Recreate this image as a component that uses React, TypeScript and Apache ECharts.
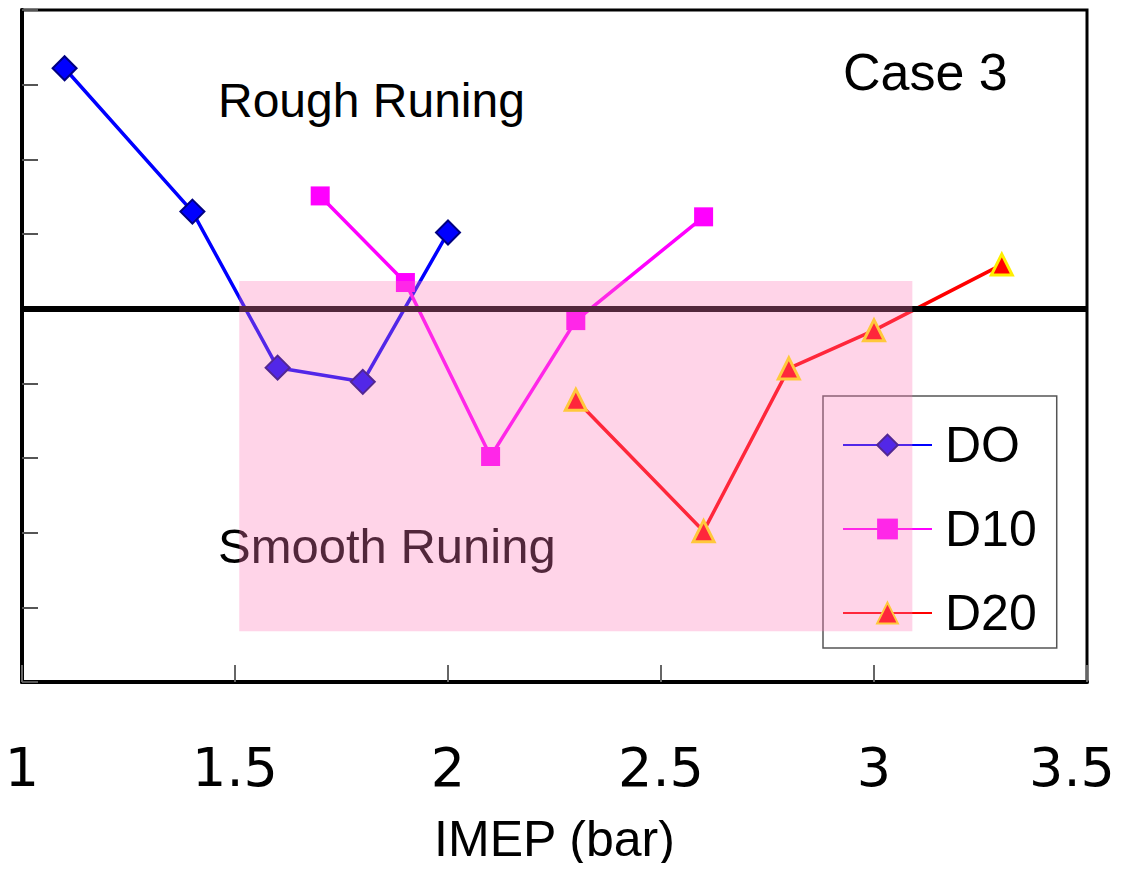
import React, { useEffect, useRef } from "react";
import * as echarts from "echarts";

const imep_D0 = [1.1, 1.4, 1.6, 1.8, 2.0];
const cov_D0 = [8.22, 6.3, 4.21, 4.02, 6.02];
const imep_D10 = [1.7, 1.9, 2.1, 2.3, 2.6];
const cov_D10 = [6.51, 5.35, 3.02, 4.84, 6.23];
const imep_D20 = [2.3, 2.6, 2.8, 3.0, 3.3];
const cov_D20 = [3.78, 2.02, 4.2, 4.71, 5.59];
const seriesNames = ["DO", "D10", "D20"];
const thresholdValue = 5;
const smoothZoneX = [1.51, 3.09];
const smoothZoneY = [0.68, 5.37];
const annotations = { rough: "Rough Runing", smooth: "Smooth Runing", caseLabel: "Case 3" };
const xAxisName = "IMEP (bar)";

const zip = (xs: number[], ys: number[]) => xs.map((x, i) => [x, ys[i]]);

export default function App() {
  const ref = useRef<HTMLDivElement>(null);
  useEffect(() => {
    if (!ref.current) return;
    const chart = echarts.init(ref.current, null, { renderer: "svg" });
    const font = "Liberation Sans, Arial, sans-serif";
    const tickFont = "DejaVu Sans, sans-serif";
    chart.setOption({
      animation: false,
      textStyle: { fontFamily: font },
      grid: {
        left: 22,
        top: 10,
        right: 39,
        bottom: 189,
        show: true,
        borderColor: "#000",
        borderWidth: 3,
        containLabel: false,
        outerBoundsMode: "none",
      },
      xAxis: {
        type: "value",
        min: 1,
        max: 3.5,
        interval: 0.5,
        name: xAxisName,
        nameLocation: "middle",
        nameGap: 132,
        nameTextStyle: { fontSize: 50, color: "#000", fontFamily: font },
        axisLine: { lineStyle: { color: "#000", width: 4 } },
        axisTick: { inside: true, length: 17, lineStyle: { color: "#666", width: 2 } },
        axisLabel: {
          fontSize: 54,
          color: "#000",
          margin: 58,
          fontFamily: tickFont,
          formatter: (v: number) => (v === 3.5 ? "{last|" + v + "}" : String(v)),
          rich: { last: { fontSize: 54, fontFamily: tickFont, color: "#000", padding: [0, 30, 0, 0] } },
        },
        splitLine: { show: false },
      },
      yAxis: {
        type: "value",
        min: 0,
        max: 9,
        interval: 1,
        axisLine: { show: true, lineStyle: { color: "#000", width: 4 } },
        axisTick: { show: true, inside: true, length: 16, lineStyle: { color: "#555", width: 2 } },
        axisLabel: { show: false },
        splitLine: { show: false },
      },
      legend: {
        data: seriesNames,
        orient: "vertical",
        left: 823,
        top: 396,
        z: 1,
        backgroundColor: "#fff",
        borderColor: "#555",
        borderWidth: 1.5,
        padding: [24, 20, 10, 19],
        itemWidth: 89,
        itemHeight: 26,
        itemGap: 34,
        textStyle: { fontSize: 50, color: "#000", fontFamily: font, padding: [0, 0, 0, 8] },
      },
      graphic: [
        { id: "rough", type: "text", left: 218, top: 76, z: 0, style: { text: annotations.rough, fontSize: 48, fill: "#000", fontFamily: font } },
        { id: "smooth", type: "text", left: 218, top: 521, z: 0, style: { text: annotations.smooth, fontSize: 49, fill: "#000", fontFamily: font } },
        { id: "case", type: "text", left: 843, top: 46, z: 0, style: { text: annotations.caseLabel, fontSize: 52, fill: "#000", fontFamily: font } },
      ],
      series: [
        {
          name: "threshold",
          type: "line",
          data: [],
          z: 1,
          markLine: {
            silent: true,
            symbol: "none",
            label: { show: false },
            lineStyle: { color: "#000", width: 6, type: "solid" },
            data: [{ yAxis: thresholdValue }],
          },
        },
        {
          name: seriesNames[0],
          type: "line",
          data: zip(imep_D0, cov_D0),
          color: "#0000ff",
          lineStyle: { width: 3.5, color: "#0000ff" },
          symbol: "diamond",
          symbolSize: 24,
          itemStyle: { color: "#0000ff", borderColor: "#000080", borderWidth: 2 },
          z: 3,
        },
        {
          name: seriesNames[1],
          type: "line",
          data: zip(imep_D10, cov_D10),
          color: "#ff00ff",
          lineStyle: { width: 3.5, color: "#ff00ff" },
          symbol: "rect",
          symbolSize: 19,
          itemStyle: { color: "#ff00ff", borderColor: "#ff00ff", borderWidth: 0 },
          z: 3,
        },
        {
          name: seriesNames[2],
          type: "line",
          data: zip(imep_D20, cov_D20),
          color: "#ff0000",
          lineStyle: { width: 3.5, color: "#ff0000" },
          symbol: "triangle",
          symbolSize: 21,
          itemStyle: { color: "#ff0000", borderColor: "#ffee00", borderWidth: 3 },
          z: 3,
        },
      ],
    });
    const p1 = chart.convertToPixel({ gridIndex: 0 }, [smoothZoneX[0], smoothZoneY[1]]) as number[];
    const p2 = chart.convertToPixel({ gridIndex: 0 }, [smoothZoneX[1], smoothZoneY[0]]) as number[];
    chart.setOption({
      graphic: [
        {
          id: "smoothZone",
          type: "rect",
          z: 100,
          silent: true,
          shape: { x: p1[0], y: p1[1], width: p2[0] - p1[0], height: p2[1] - p1[1] },
          style: { fill: "rgba(255,120,185,0.32)" },
        },
      ],
    });
    return () => chart.dispose();
  }, []);
  return <div ref={ref} style={{ width: 1126, height: 871, margin: -8 }} />;
}
